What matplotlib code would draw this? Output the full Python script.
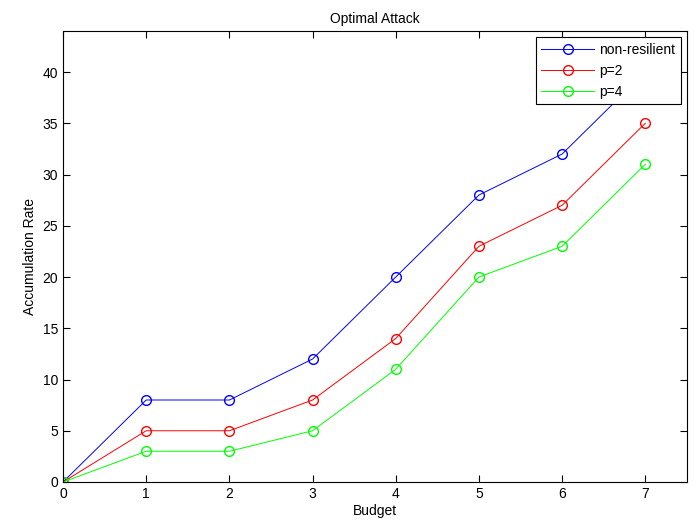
import matplotlib
matplotlib.use("Agg")
import matplotlib.pyplot as plt

plt.rcParams['font.family'] = ['Liberation Sans', 'DejaVu Sans']

budget = [0, 1, 2, 3, 4, 5, 6, 7]
non_resilient = [0, 8, 8, 12, 20, 28, 32, 40]
p2 = [0, 5, 5, 8, 14, 23, 27, 35]
p4 = [0, 3, 3, 5, 11, 20, 23, 31]

fig = plt.figure(figsize=(6.94, 5.23), dpi=100)
ax = fig.add_axes([0.0908, 0.0784, 0.899, 0.8623])

ax.plot(budget, non_resilient, color='b', marker='o', mfc='none', ms=7, lw=0.7, label='non-resilient')
ax.plot(budget, p2, color='r', marker='o', mfc='none', ms=7, lw=0.7, label='p=2')
ax.plot(budget, p4, color='#00ff00', marker='o', mfc='none', ms=7, lw=0.7, label='p=4')

ax.set_xlim(0, 7.5)
ax.set_ylim(0, 44)
ax.set_xticks(range(0, 8))
ax.set_yticks(range(0, 45, 5))
ax.tick_params(direction='in', top=True, right=True, labelsize=10, length=5)
ax.set_xlabel('Budget', fontsize=10, labelpad=2)
ax.set_ylabel('Accumulation Rate', fontsize=10)
ax.set_title('Optimal Attack', fontsize=10)

leg = ax.legend(loc='upper right', fontsize=10, fancybox=False, framealpha=1,
                edgecolor='k', borderaxespad=0.45, handlelength=3.8,
                handletextpad=0.35, labelspacing=0.5)
leg.get_frame().set_linewidth(0.8)

fig.savefig('out.png', dpi=100)
